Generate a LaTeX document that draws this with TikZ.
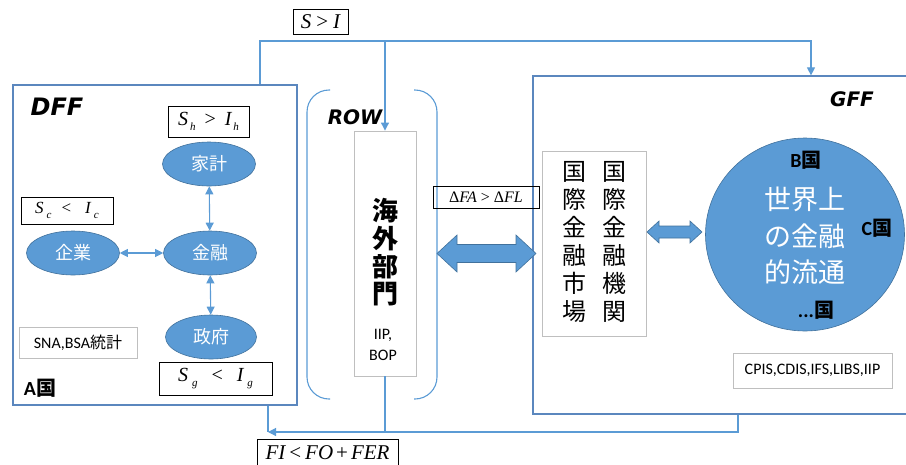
\documentclass[tikz,border=0pt]{standalone}
\usepackage{fontspec}
\setmainfont{Carlito}
\newfontfamily\cjk{Noto Sans CJK JP}
\newfontfamily\verd{DejaVu Sans}
\newfontfamily\tms{Liberation Serif}
\usetikzlibrary{arrows.meta,shapes.geometric,calc}

\definecolor{office}{HTML}{5B9BD5}
\definecolor{officedk}{HTML}{41719C}
\definecolor{framecol}{HTML}{5B87BE}
\definecolor{boxgray}{HTML}{BFBFBF}

\newcommand\fsz[1]{\fontsize{#1}{#1}\selectfont}
\newcommand\mi[1]{{\tms\itshape #1}}
\newcommand\sbs[1]{\raisebox{-5pt}{\fsz{11}\mi{#1}}}
% wide two-way arrow centred on a coordinate:
% #1 centre, #2 half length, #3 head length, #4 half head width, #5 half shaft width
\newcommand\widearrow[5]{%
  \draw[fatarrow, shift={(#1)}]
    (-#2,0) -- (-#2+#3,-#4) -- (-#2+#3,-#5) -- (#2-#3,-#5) -- (#2-#3,-#4) --
    (#2,0) -- (#2-#3,#4) -- (#2-#3,#5) -- (-#2+#3,#5) -- (-#2+#3,#4) -- cycle;}

\tikzset{
  conn/.style={draw=office, line width=1.1pt},
  arr/.style={-{Triangle[length=8pt,width=8pt]}},
  biarr/.style={{Triangle[length=8pt,width=8pt]}-{Triangle[length=8pt,width=8pt]}},
  sector/.style={ellipse, fill=office, draw=officedk, line width=0.6pt,
    minimum width=93pt, minimum height=44pt, inner sep=0pt,
    text=white, font=\cjk\fsz{18}},
  mathbox/.style={draw=black, line width=0.8pt, inner sep=0pt, font=\tms\fsz{20}},
  graybox/.style={draw=boxgray, line width=0.9pt, inner sep=0pt},
  areabox/.style={draw=framecol, line width=1.2pt, inner sep=0pt},
  heading/.style={font=\verd\bfseries\itshape\fsz{20}},
  fatarrow/.style={fill=office, draw=officedk, line width=0.6pt},
}

\begin{document}
\begin{tikzpicture}[x=1pt,y=-1pt]
\path[use as bounding box, clip] (0,0) rectangle (906,464);

% domestic financial flows (country A)
\node[areabox, minimum width=284pt, minimum height=320pt] (dff) at (155,245) {};
\node[heading, font=\verd\bfseries\itshape\fsz{24}] (dfflabel) at (57,107) {DFF};
\node[sector] (hh)   at (209,164) {家計};
\node[sector] (fin)  at (210,253) {金融};
\node[sector] (corp) at (73,253)  {企業};
\node[sector, minimum width=91pt] (gov) at (211,337) {政府};
\draw[conn, biarr] (corp) -- (fin);
\draw[conn, biarr] (hh) -- (fin);
\draw[conn, biarr] (fin) -- (gov);

\node[mathbox, minimum width=81pt, minimum height=31pt] (shi) at (208.5,121.5)
  {\mi{S}\hspace{2pt}\sbs{h}\hspace{9pt}>\hspace{9pt}\mi{I}\hspace{2pt}\sbs{h}};
\node[mathbox, minimum width=92pt, minimum height=27pt, font=\tms\fsz{17}] (sci) at (67,210.5)
  {\mi{S}\hspace{3pt}\sbs{c}\hspace{10pt}<\hspace{14pt}\mi{I}\hspace{3pt}\sbs{c}};
\node[mathbox, minimum width=113pt, minimum height=33pt] (sgi) at (215.5,378.5)
  {\mi{S}\hspace{4pt}\sbs{g}\hspace{14pt}<\hspace{14pt}\mi{I}\hspace{4pt}\sbs{g}};
\node[graybox, minimum width=118pt, minimum height=31pt, font=\fsz{16}] (sna) at (78,342.5)
  {SNA,BSA{\cjk 統計}};
\node[font=\bfseries\fsz{20}] (acountry) at (40,388) {A{\cjk\bfseries 国}};

% rest of the world
\draw[draw=office, line width=1.1pt, rounded corners=22pt]
  (330,90) -- (307,90) -- (307,399) -- (330,399);
\draw[draw=office, line width=1.1pt, rounded corners=22pt]
  (414,90) -- (437,90) -- (437,399) -- (414,399);
\node[heading] (rowlabel) at (355,117) {ROW};
\node[graybox, minimum width=62pt, minimum height=245pt] (kaigai) at (385,253.5) {};
\node[font=\cjk\bfseries\fontsize{26}{27.7}\selectfont, align=center] (kaigaitext)
  at (385,252.5) {海\\外\\部\\門};
\node[font=\fontsize{16}{21}\selectfont, align=center] (iipbop) at (383,345) {IIP,\\BOP};

% global financial flows
\node[areabox, minimum width=400pt, minimum height=338pt] (gff) at (733,245) {};
\node[heading] (gfflabel) at (852,99) {GFF};
\node[graybox, minimum width=104pt, minimum height=185pt] (kbox) at (594,243.5) {};
\node[font=\cjk\fontsize{24}{28}\selectfont, align=center] (market) at (574,242)
  {国\\際\\金\\融\\市\\場};
\node[font=\cjk\fontsize{24}{28}\selectfont, align=center] (inst) at (614,242)
  {国\\際\\金\\融\\機\\関};
\node[ellipse, fill=office, draw=officedk, line width=0.6pt, minimum width=199pt,
  minimum height=193pt, inner sep=0pt] (world) at (805,234.5) {};
\node[font=\cjk\fontsize{27}{36.5}\selectfont, text=white, align=center] (worldtext)
  at (805,236) {世界上\\の金融\\的流通};
\node[font=\bfseries\fsz{20}] (bcountry) at (806,160) {B{\cjk\bfseries 国}};
\node[font=\bfseries\fsz{20}] (ccountry) at (877,228) {C{\cjk\bfseries 国}};
\node[font=\bfseries\fsz{20}] (ncountry) at (816,310) {...{\cjk\bfseries 国}};
\node[graybox, minimum width=159pt, minimum height=35pt, font=\fsz{16}] (cpis)
  at (812.5,370.5) {CPIS,CDIS,IFS,LIBS,IIP};

% wide two-way arrows
\coordinate (bigc) at (486.5,253.5);
\coordinate (smallc) at (674.5,232);
\widearrow{bigc}{49.5}{20}{18.5}{9}
\widearrow{smallc}{27.5}{12}{11}{6}

% balance labels
\node[mathbox, minimum width=106pt, minimum height=22pt, font=\tms\fsz{16}] (dfa)
  at (486,197) {Δ\mi{FA}\hspace{4pt}>\hspace{4pt}Δ\mi{FL}};
\node[mathbox, minimum width=55pt, minimum height=25pt, font=\tms\fsz{21}] (si)
  at (320.5,21.5) {\mi{S}\hspace{5pt}>\hspace{5pt}\mi{I}};
\node[mathbox, minimum width=141pt, minimum height=32pt] (fi) at (327.5,455) {};
\node[font=\tms\fsz{21}, anchor=base, inner sep=0pt] (fitext) at (327.5,459)
  {\mi{FI}\hspace{4pt}<\hspace{4pt}\mi{FO}\hspace{3pt}+\hspace{3pt}\mi{FER}};

% saving surplus flows out
\coordinate (topbus) at (811,41);
\draw[conn, arr] ([xshift=105pt]dff.north) |- (topbus) -- (topbus |- gff.north);
\draw[conn, arr] (kaigai.north |- topbus) -- (kaigai.north);

% financial inflows back
\coordinate (botbus) at (268,432);
\draw[conn, arr] ([xshift=5pt]gff.south) |- (botbus);
\draw[conn] ([xshift=113pt]dff.south) -- (botbus);
\draw[conn] (kaigai.south) -- (kaigai.south |- botbus);
\end{tikzpicture}
\end{document}
